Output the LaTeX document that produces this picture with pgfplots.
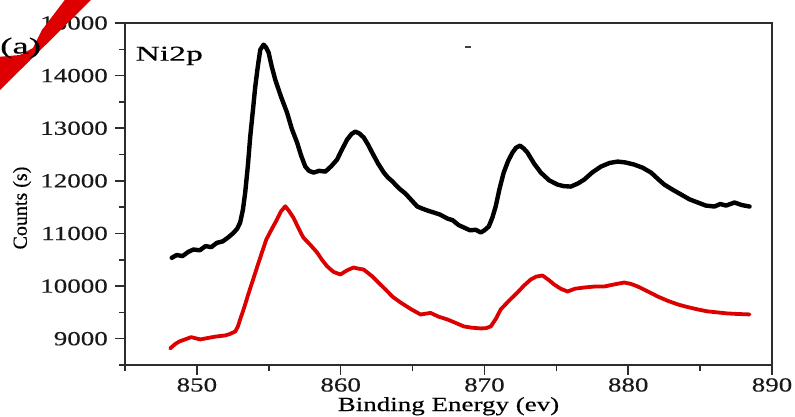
\documentclass[border=0pt]{standalone}
\usepackage{fontspec}
\setmainfont{Liberation Serif}[FakeStretch=1.35, FakeBold=0.4]
\newfontfamily\plainserif{Liberation Serif}[FakeBold=0.4]
\newfontfamily\wideserif{Liberation Serif}[FakeStretch=1.6, FakeBold=0.4]
\usepackage{pgfplots}
\usepackage{pgfplotstable}
\pgfplotsset{compat=1.18}

\definecolor{tracered}{RGB}{220,0,0}
\definecolor{markred}{RGB}{222,0,0}
\definecolor{frame}{RGB}{45,45,45}

% Ni 2p spectra, upper and lower sample
\pgfplotstableread{
x y
848.25 10537
848.6 10590
849.0 10570
849.4 10650
849.76 10695
850.2 10680
850.6 10760
851.0 10740
851.39 10822
851.8 10850
852.2 10930
852.55 11012
852.8 11090
853.01 11208
853.2 11450
853.36 11777
853.55 12300
853.71 12841
853.9 13350
854.06 13790
854.25 14200
854.41 14493
854.64 14588
854.8 14540
854.99 14436
855.2 14180
855.45 13923
855.85 13600
856.27 13297
856.6 12990
856.97 12727
857.25 12480
857.54 12271
857.8 12190
858.12 12157
858.5 12190
858.94 12176
859.35 12280
859.75 12404
860.1 12600
860.45 12784
860.75 12890
861.03 12936
861.3 12900
861.61 12822
861.9 12690
862.19 12537
862.6 12330
863.0 12157
863.3 12060
863.6 11990
863.9 11900
864.16 11834
864.5 11760
864.9 11640
865.33 11512
865.7 11470
866.1 11430
866.48 11398
866.9 11360
867.42 11284
867.8 11250
868.2 11160
868.57 11113
869.0 11060
869.4 11070
869.74 11018
870.0 11060
870.30 11132
870.55 11300
870.78 11512
871.05 11850
871.34 12157
871.65 12380
871.95 12537
872.2 12630
872.48 12670
872.75 12610
872.99 12537
873.45 12330
873.92 12157
874.5 12010
875.08 11929
875.5 11900
876.01 11891
876.5 11950
876.94 12024
877.5 12160
878.10 12271
878.7 12340
879.27 12366
879.8 12350
880.42 12309
881.0 12250
881.59 12157
882.05 12040
882.51 11929
883.1 11830
883.68 11740
884.25 11650
884.84 11588
885.4 11530
886.0 11512
886.4 11560
886.8 11530
887.39 11588
887.9 11540
888.44 11512
}\spectrumTop

\pgfplotstableread{
x y
848.14 8815
848.5 8900
848.8 8950
849.18 8986
849.6 9030
850.23 8986
850.7 9010
851.3 9040
851.97 9062
852.3 9090
852.67 9138
852.85 9230
853.01 9366
853.3 9600
853.57 9841
853.88 10100
854.18 10353
854.5 10620
854.83 10885
855.2 11080
855.57 11265
855.85 11420
856.15 11517
856.4 11430
856.71 11303
857.05 11110
857.4 10923
857.9 10780
858.36 10639
858.7 10500
859.05 10378
859.5 10270
859.98 10220
860.45 10300
860.89 10353
861.25 10330
861.59 10315
861.9 10250
862.21 10182
862.65 10060
863.12 9936
863.6 9800
864.16 9689
864.9 9560
865.56 9460
866.25 9490
866.8 9420
867.42 9366
868.0 9300
868.57 9233
869.1 9210
869.74 9195
870.1 9200
870.44 9233
870.8 9380
871.13 9556
871.7 9720
872.30 9879
872.75 10010
873.22 10125
873.6 10180
874.04 10201
874.45 10120
874.85 10030
875.3 9950
875.78 9897
876.3 9950
876.94 9973
877.6 9990
878.33 9992
879.0 10030
879.72 10068
880.2 10040
880.66 9992
881.35 9900
882.05 9802
882.75 9720
883.45 9651
884.15 9600
884.84 9556
885.5 9520
886.23 9499
886.9 9480
887.6 9470
888.44 9461
}\spectrumBottom

\begin{document}
\begin{tikzpicture}[x=1pt,y=1pt]
\path[use as bounding box] (-125,-51) rectangle (670,365);
\begin{axis}[
  at={(0,0)}, anchor=south west,
  scale only axis, width=647pt, height=342pt,
  xmin=845, xmax=890, ymin=8500, ymax=15000,
  xtick={850,860,...,890},
  minor xtick={845,855,...,885},
  ytick={9000,10000,...,15000},
  minor ytick={8500,9500,...,14500},
  xtick pos=lower, ytick pos=left,
  tick align=outside,
  major tick length=10pt, minor tick length=6pt,
  axis line style={frame, line width=1.6pt},
  every tick/.style={frame, line width=1.6pt},
  scaled y ticks=false, scaled x ticks=false,
  /pgf/number format/1000 sep={},
  /pgf/number format/assume math mode=true,
  tick label style={font=\fontsize{20}{24}\selectfont, text=black!90},
  yticklabel style={inner sep=0pt, xshift=-7pt},
  xticklabel style={inner sep=0pt, yshift=-3pt},
  xlabel={Binding Energy (ev)},
  xlabel style={at={(axis description cs:0.5,0)}, anchor=base, yshift=-46pt,
    font=\fontsize{20}{24}\selectfont},
  ylabel={\plainserif Counts (s)},
  ylabel style={at={(axis description cs:0,0.459)}, anchor=center, yshift=103pt,
    font=\fontsize{20}{24}\selectfont},
  clip=false,
]
\addplot[black, line width=4.4pt, line join=round, line cap=round] table[x=x,y=y] {\spectrumTop};
\addplot[tracered, line width=3.8pt, line join=round, line cap=round] table[x=x,y=y] {\spectrumBottom};
\node[anchor=base west, font=\wideserif\fontsize{21}{24}\selectfont]
  at (axis description cs:0.011,0.89) {Ni2p};
\end{axis}
% small stray dash inside the frame
\draw[black!75, line width=1.6pt] (340,318) -- (346,318);
% red pen stroke across the corner
\fill[markred] (-58,368) -- (-31,368) -- (-128,272) -- (-128,308) -- (-105,310)
  -- (-92,317) -- (-83,335) -- cycle;
\node[anchor=west, inner sep=0pt, font=\wideserif\fontsize{23}{26}\selectfont]
  at (-125,317) {(a)};
\end{tikzpicture}
\end{document}
